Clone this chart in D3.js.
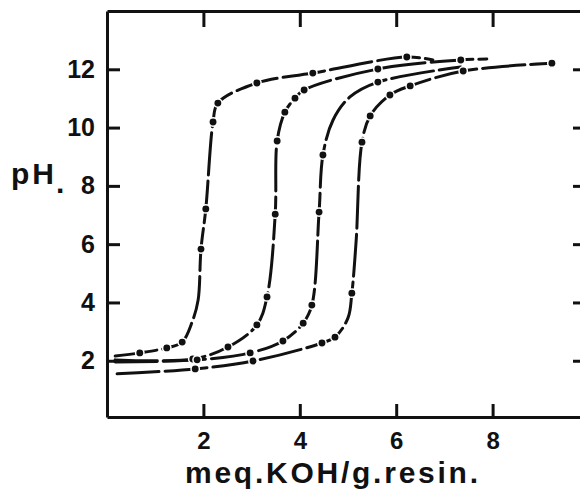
<!DOCTYPE html>
<html>
<head>
<meta charset="utf-8">
<script src="https://cdn.jsdelivr.net/npm/d3@7"></script>
<style>
  html, body { margin: 0; padding: 0; background: #fff; }
  svg { display: block; }
  text { font-family: "Liberation Sans", Arial, sans-serif; font-weight: bold; fill: #111; }
</style>
</head>
<body>
<svg id="chart" width="580" height="493"></svg>
<script>
// ---- data (x: meq KOH / g resin, y: pH, third value 1 = measured point drawn as dot) ----
const xTicks = [2, 4, 6, 8];
const yTicks = [2, 4, 6, 8, 10, 12];
const xTickLabels = ["2", "4", "6", "8"];
const yTickLabels = ["2", "4", "6", "8", "10", "12"];
const xTitle = "meq.KOH/g.resin.";
const yTitle = "pH";

const curveA = [
  [0.17, 2.16, 0], [0.68, 2.27, 1], [1.24, 2.44, 1], [1.56, 2.64, 1], [1.77, 3.35, 0],
  [1.89, 4.08, 0], [1.95, 5.83, 1], [2.05, 7.21, 1], [2.20, 10.19, 1], [2.30, 10.84, 1],
  [3.11, 11.53, 1], [4.27, 11.87, 1], [6.22, 12.42, 1], [6.76, 12.32, 0]
];
const curveB = [
  [0.17, 2.03, 0], [1.78, 2.06, 1], [2.51, 2.47, 1], [3.11, 3.23, 1], [3.32, 4.19, 1],
  [3.49, 7.03, 1], [3.53, 9.54, 1], [3.69, 10.53, 1], [3.90, 11.01, 1], [4.09, 11.29, 1],
  [5.62, 12.01, 1], [7.34, 12.32, 1], [7.88, 12.35, 0]
];
const curveC = [
  [0.17, 1.96, 0], [1.87, 2.03, 1], [2.97, 2.27, 1], [3.65, 2.68, 1], [4.07, 3.29, 1],
  [4.25, 3.91, 1], [4.40, 7.10, 1], [4.48, 9.06, 1], [4.69, 10.26, 0], [5.04, 11.05, 0],
  [5.62, 11.56, 1], [7.34, 12.08, 0]
];
const curveD = [
  [0.21, 1.55, 0], [1.83, 1.72, 1], [3.03, 1.99, 1], [4.46, 2.61, 1], [4.73, 2.81, 1],
  [5.00, 3.47, 0], [5.08, 4.32, 1], [5.17, 6.14, 0], [5.29, 9.50, 1], [5.46, 10.40, 1],
  [5.87, 11.12, 1], [6.29, 11.43, 1], [7.39, 11.94, 1], [9.23, 12.21, 1]
];
const curves = [curveA, curveB, curveC, curveD];

// ---- layout ----
const svg = d3.select("#chart");
const ink = "#111";
const x = d3.scaleLinear().domain([0, 10]).range([107, 589]);
const y = d3.scaleLinear().domain([0.07, 14]).range([417, 11]);

function styleAxis(g) {
  g.select(".domain").attr("stroke", ink).attr("stroke-width", 3);
  g.selectAll(".tick line").attr("stroke", ink).attr("stroke-width", 3);
}

// left axis (ticks inward, with labels)
svg.append("g").attr("transform", `translate(${x(0)},0)`)
  .call(d3.axisLeft(y).tickValues(yTicks).tickSizeInner(-13).tickSizeOuter(0).tickPadding(12)
    .tickFormat((d, i) => yTickLabels[i]))
  .call(styleAxis)
  .call(g => g.selectAll("text").attr("font-size", 25).attr("fill", ink)
    .attr("font-family", "Liberation Sans, Arial, sans-serif").attr("font-weight", "bold"));

// bottom axis
svg.append("g").attr("transform", `translate(0,${y(0.07)})`)
  .call(d3.axisBottom(x).tickValues(xTicks).tickSizeInner(-13).tickSizeOuter(0).tickPadding(15)
    .tickFormat((d, i) => xTickLabels[i]))
  .call(styleAxis)
  .call(g => g.selectAll("text").attr("font-size", 24).attr("fill", ink)
    .attr("font-family", "Liberation Sans, Arial, sans-serif").attr("font-weight", "bold"));

// top axis
svg.append("g").attr("transform", `translate(0,${y(14)})`)
  .call(d3.axisTop(x).tickValues(xTicks).tickSizeInner(-16).tickSizeOuter(0).tickFormat(""))
  .call(styleAxis);

// right axis
svg.append("g").attr("transform", `translate(${x(10)},0)`)
  .call(d3.axisLeft(y).tickValues(yTicks).tickSizeInner(16).tickSizeOuter(0).tickFormat(""))
  .call(styleAxis);

// curves
const line = d3.line()
  .x(d => x(d[0])).y(d => y(d[1]))
  .curve(d3.curveCatmullRom.alpha(0.5));

const gc = svg.append("g");
curves.forEach(c => {
  gc.append("path").datum(c)
    .attr("d", line)
    .attr("fill", "none")
    .attr("stroke", ink)
    .attr("stroke-width", 3)
    .attr("stroke-linecap", "round")
    .attr("stroke-dasharray", "42,6");
});
curves.forEach(c => {
  gc.selectAll(null).data(c.filter(d => d[2] === 1)).enter().append("circle")
    .attr("cx", d => x(d[0])).attr("cy", d => y(d[1]))
    .attr("r", 4.2)
    .attr("fill", ink)
    .attr("stroke", "#fff").attr("stroke-width", 1.5);
});

// titles
svg.append("text").attr("x", 185).attr("y", 483)
  .attr("font-size", 30).attr("textLength", 293).attr("lengthAdjust", "spacing")
  .text(xTitle);
svg.append("text").attr("x", 11).attr("y", 184)
  .attr("font-size", 30).attr("textLength", 43).attr("lengthAdjust", "spacing")
  .text(yTitle);
svg.append("text").attr("x", 56).attr("y", 193)
  .attr("font-size", 30).text(".");
</script>
</body>
</html>
